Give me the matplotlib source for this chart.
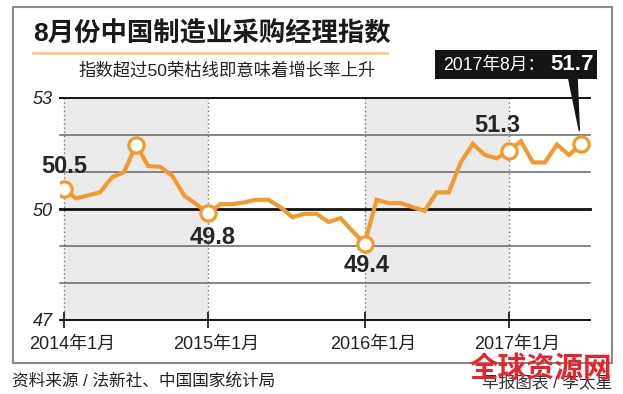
import matplotlib.pyplot as plt
import matplotlib.transforms as mtransforms
from matplotlib.patches import Rectangle
from matplotlib.lines import Line2D

plt.rcParams['font.family'] = ['Liberation Sans', 'Noto Sans CJK SC', 'DejaVu Sans']

# 2014年1月 ... 2017年8月, one value per month
pmi = [50.54, 50.29, 50.37, 50.45, 50.86, 51.0, 51.74, 51.16, 51.14, 50.9, 50.36, 50.13,
       49.88, 50.13, 50.13, 50.18, 50.25, 50.25, 50.05, 49.78, 49.87, 49.87, 49.65, 49.75,
       49.4, 49.06, 50.25, 50.16, 50.16, 50.05, 49.95, 50.45, 50.45, 51.26, 51.76, 51.46,
       51.37, 51.58, 51.83, 51.26, 51.26, 51.74, 51.46, 51.75]
months = list(range(len(pmi)))

tick_pos = [0, 12, 25, 37]
tick_labels = ['2014年1月', '2015年1月', '2016年1月', '2017年1月']
shade = [(0, 12), (25, 37)]

marked = [0, 6, 12, 25, 37, 43]
labels = {0: '50.5', 12: '49.8', 25: '49.4', 37: '51.3'}
label_offset = {0: (0, 23), 12: (4, -24), 25: (2, -22), 37: (-12, 25)}

orange = '#F29A2E'
W, H = 623, 394

fig = plt.figure(figsize=(6.23, 3.94), dpi=100)
ax = fig.add_axes([60 / W, (H - 320) / H, 530 / W, 222 / H])
ax.set_xlim(-0.333, 43.75)
ax.set_ylim(47, 53)
ax.patch.set_alpha(0)
for s in ax.spines.values():
    s.set_visible(False)

for a, b in shade:
    ax.axvspan(a, b, color='#ebebeb', lw=0, zorder=0)
for t in tick_pos:
    ax.axvline(t, color='#777777', lw=1, ls=(0, (1, 2)), zorder=1)

for y in range(47, 54):
    if y == 50:
        ax.axhline(y, color='#111111', lw=2, zorder=2, clip_on=False)
    elif y in (47, 53):
        ax.axhline(y, color='#111111', lw=1.4, zorder=2, clip_on=False)
    else:
        ax.axhline(y, color='#666666', lw=1.1, zorder=2, clip_on=False)

ax.plot(months, pmi, color=orange, lw=3, solid_joinstyle='miter', zorder=3)
ax.plot([months[i] for i in marked], [pmi[i] for i in marked], 'o', ms=11,
        mfc='white', mec=orange, mew=2.3, zorder=4)

for i, txt in labels.items():
    ax.annotate(txt, xy=(months[i], pmi[i]), xytext=label_offset[i],
                textcoords='offset pixels', ha='center', va='center',
                fontsize=17, fontweight='bold', color='#262626', zorder=5)

ax.set_yticks([47, 50, 53])
ax.set_yticklabels(['47', '50', '53'], fontsize=13, style='italic', color='#222222')
ax.tick_params(axis='y', length=0, pad=5)
ax.set_xticks(tick_pos)
ax.set_xticklabels([])
ax.tick_params(axis='x', direction='inout', length=11, width=1.2, color='#111111')
shift = mtransforms.ScaledTranslation(6 / 72, 0, fig.dpi_scale_trans)
for t, lab in zip(tick_pos, tick_labels):
    ax.text(t, -0.07, lab, transform=ax.get_xaxis_transform() + shift, fontsize=13,
            ha='center', va='top', color='#222222')

# frame, title, subtitle
fig.patches.append(Rectangle((13 / W, (H - 363) / H), 599 / W, 356 / H,
                             transform=fig.transFigure, fill=False, ec='#8a8a8a', lw=1.5))
fig.text(33 / W, (H - 34) / H, '8月份中国制造业采购经理指数', fontsize=19,
         fontweight='heavy', color='#1a1a1a', ha='left', va='center')
fig.lines.append(Line2D([33 / W, 387 / W], [(H - 53) / H] * 2, transform=fig.transFigure,
                        color='#f2d08a', lw=2))
fig.text(78 / W, (H - 70) / H, '指数超过50荣枯线即意味着增长率上升', fontsize=12.5,
         color='#222222', ha='left', va='center')

# callout for the latest value
fig.patches.append(Rectangle((435 / W, (H - 79) / H), 162 / W, 29 / H,
                             transform=fig.transFigure, color='#141414', lw=0))
fig.text(443 / W, (H - 65) / H, '2017年8月：', fontsize=12.7, color='white',
         ha='left', va='center')
fig.text(594 / W, (H - 65) / H, '51.7', fontsize=16, fontweight='bold', color='white',
         ha='right', va='center')
ax.annotate('', xy=(months[-1], pmi[-1]), xytext=(573, H - 79), textcoords='figure pixels',
            arrowprops=dict(arrowstyle='wedge,tail_width=0.6,shrink_factor=0.5',
                            fc='#141414', ec='#141414', shrinkA=0, shrinkB=10))

# footer
fig.text(12 / W, (H - 381) / H, '资料来源 / 法新社、中国国家统计局', fontsize=12,
         color='#222222', ha='left', va='center')
fig.text(612 / W, (H - 382) / H, '早报图表 / 李太星', fontsize=12,
         color='#333333', ha='right', va='center')
fig.text(541 / W, (H - 369) / H, '全球资源网', fontsize=20.5, fontweight='heavy',
         color='#e8232a', ha='center', va='center')

fig.savefig('out.png', dpi=100)
